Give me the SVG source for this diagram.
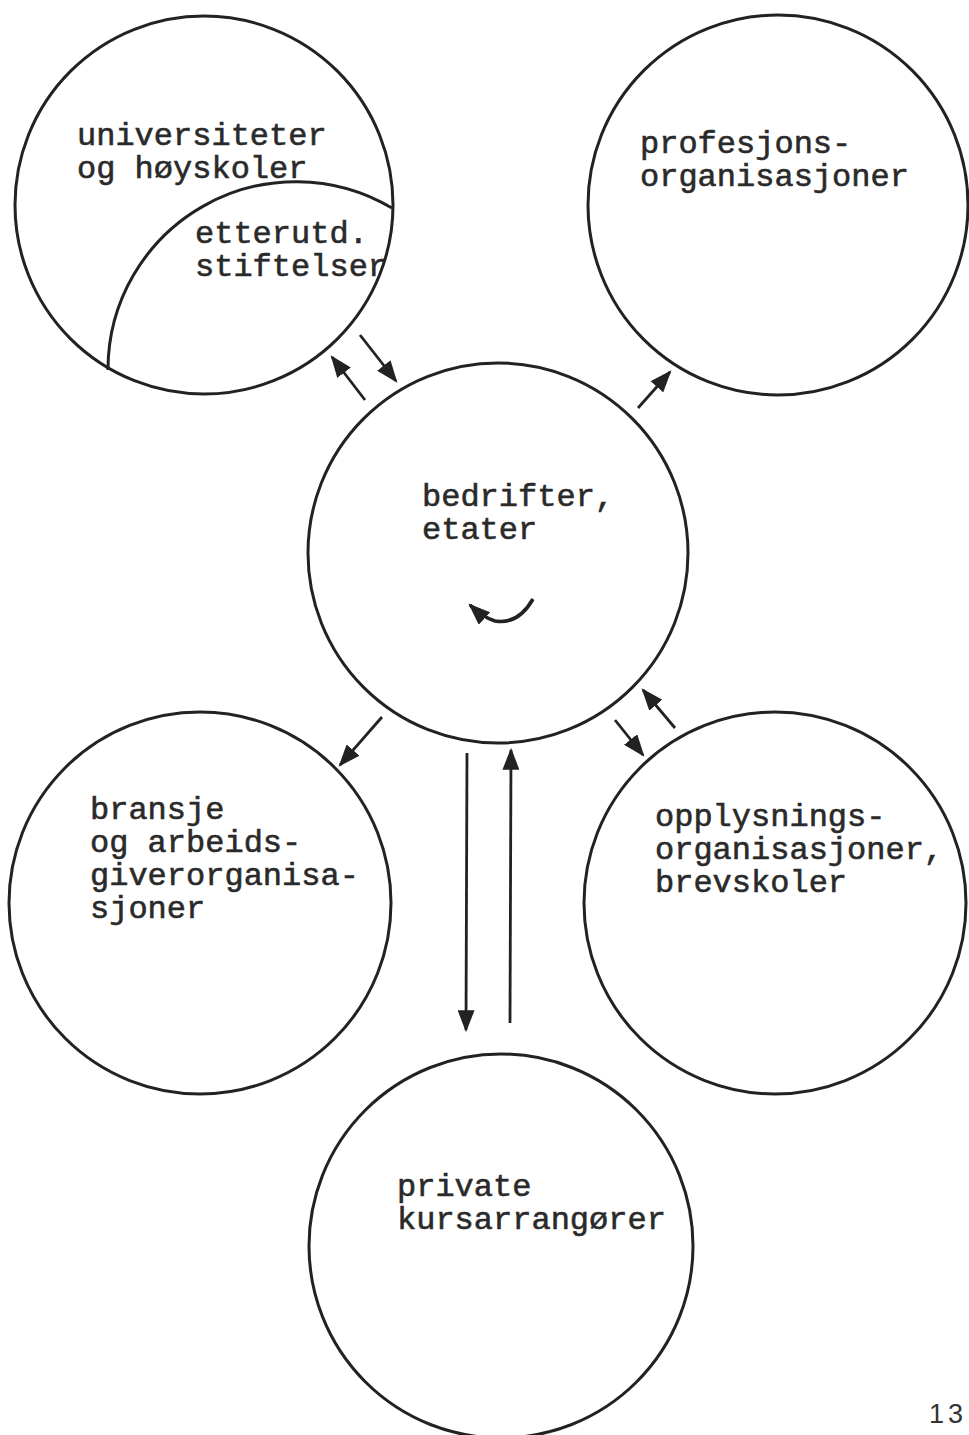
<svg xmlns="http://www.w3.org/2000/svg" width="969" height="1435" viewBox="0 0 969 1435">
<style>
.c{fill:none;stroke:#222;stroke-width:3}
.t{font-family:"Liberation Mono","Courier New",monospace;font-size:32px;fill:#2a2a2a;stroke:#2a2a2a;stroke-width:0.6}
.a{fill:none;stroke:#222;stroke-width:2.8}
</style>
<defs>
<marker id="ah" viewBox="0 0 10 10" refX="9" refY="5" markerWidth="22" markerHeight="17" markerUnits="userSpaceOnUse" orient="auto" preserveAspectRatio="none">
<path d="M0,0 L10,5 L0,10 Z" fill="#222"/>
</marker>
</defs>
<rect width="969" height="1435" fill="#fff"/>
<g id="universiteter">
<circle class="c" cx="204" cy="205" r="189"/>
<text class="t" x="77" y="145">universiteter</text>
<text class="t" x="77" y="178">og høyskoler</text>
</g>
<g id="etterutd">
<path class="c" d="M392,208 A188,188 0 0 0 108,370"/>
<text class="t" x="195" y="243">etterutd.</text>
<text class="t" x="195" y="276">stiftelser</text>
</g>
<g id="profesjons">
<circle class="c" cx="778" cy="205" r="190"/>
<text class="t" x="640" y="153">profesjons-</text>
<text class="t" x="640" y="186">organisasjoner</text>
</g>
<g id="bedrifter">
<circle class="c" cx="498" cy="553" r="190"/>
<text class="t" x="422" y="506">bedrifter,</text>
<text class="t" x="422" y="539">etater</text>
</g>
<g id="bransje">
<circle class="c" cx="200" cy="903" r="191"/>
<text class="t" x="90" y="819">bransje</text>
<text class="t" x="90" y="852">og arbeids-</text>
<text class="t" x="90" y="885">giverorganisa-</text>
<text class="t" x="90" y="918">sjoner</text>
</g>
<g id="opplysnings">
<circle class="c" cx="775" cy="903" r="191"/>
<text class="t" x="655" y="826">opplysnings-</text>
<text class="t" x="655" y="859">organisasjoner,</text>
<text class="t" x="655" y="892">brevskoler</text>
</g>
<g id="private">
<circle class="c" cx="501" cy="1246" r="192"/>
<text class="t" x="397" y="1196">private</text>
<text class="t" x="397" y="1229">kursarrangører</text>
</g>
<g id="connectors">
<line class="a" x1="365" y1="400" x2="332" y2="357" marker-end="url(#ah)"/>
<line class="a" x1="360" y1="335" x2="396" y2="381" marker-end="url(#ah)"/>
<line class="a" x1="638" y1="408" x2="670" y2="372" marker-end="url(#ah)"/>
<line class="a" x1="382" y1="717" x2="340" y2="765" marker-end="url(#ah)"/>
<line class="a" x1="675" y1="728" x2="643" y2="690" marker-end="url(#ah)"/>
<line class="a" x1="615" y1="720" x2="643" y2="755" marker-end="url(#ah)"/>
<line class="a" x1="467" y1="753" x2="466" y2="1030" marker-end="url(#ah)"/>
<line class="a" x1="510" y1="1023" x2="511" y2="750" marker-end="url(#ah)"/>
<path class="a" style="stroke-width:3.6" d="M533,599 Q518,625 495,621 Q484,618 470,605" marker-end="url(#ah)"/>
</g>
<text x="929" y="1423" style="font-family:'Liberation Sans',Arial,sans-serif;font-size:27px;fill:#333;letter-spacing:4px">13</text>
</svg>
